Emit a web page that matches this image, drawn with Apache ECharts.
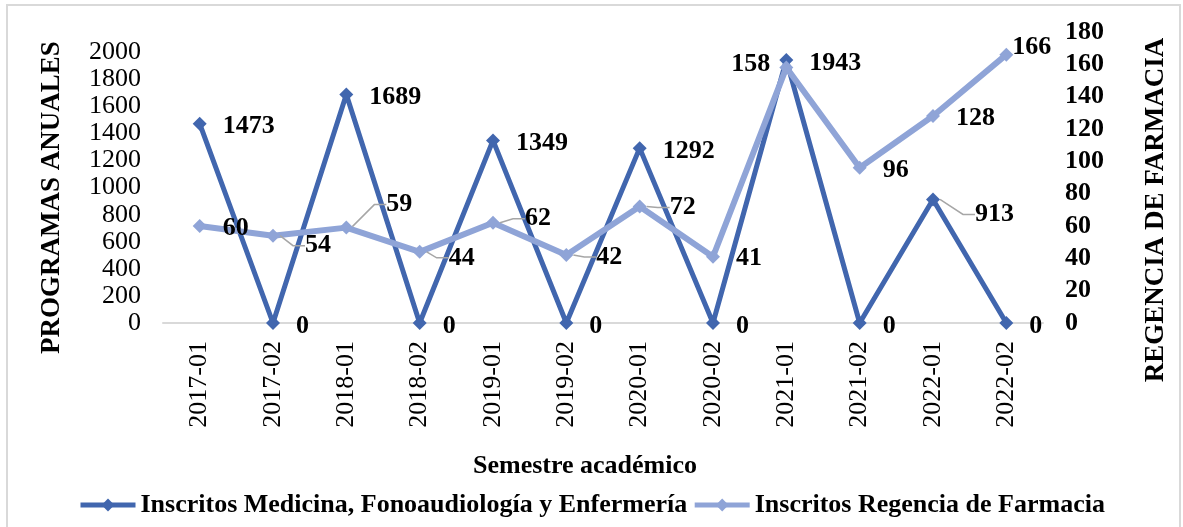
<!DOCTYPE html>
<html>
<head>
<meta charset="utf-8">
<script src="https://cdn.jsdelivr.net/npm/echarts@6/dist/echarts.min.js"></script>
<style>
html,body{margin:0;padding:0;background:#fff;}
#chart{width:1183px;height:527px;}
</style>
</head>
<body>
<div id="chart"></div>
<script>
// ---- data ----
var categories = ['2017-01','2017-02','2018-01','2018-02','2019-01','2019-02','2020-01','2020-02','2021-01','2021-02','2022-01','2022-02'];
var medicinaValues = [1473, 0, 1689, 0, 1349, 0, 1292, 0, 1943, 0, 913, 0];
var farmaciaValues = [60, 54, 59, 44, 62, 42, 72, 41, 158, 96, 128, 166];
var seriesNames = ['Inscritos Medicina, Fonoaudiología y Enfermería', 'Inscritos Regencia de Farmacia'];
var leftAxisName = 'PROGRAMAS ANUALES';
var rightAxisName = 'REGENCIA DE FARMACIA';
var xAxisName = 'Semestre académico';

// ---- label placement (style only) ----
var medLabelShift = {10: [19, 15, true]};
var farmLabelShift = {1: [9, 10, true], 2: [17, -23, true], 3: [6, 6, true], 4: [9, -4, true], 5: [7, 2, true], 6: [7, 1, true], 8: [0, -3, false], 11: [-17, -7, false]};

var FONT = 'Liberation Serif, Times New Roman, serif';
var DARK = '#4166AE';
var LIGHT = '#8FA4D7';

function buildData(values, shifts, leftIdx) {
  return values.map(function (v, i) {
    var item = {value: v};
    var s = shifts[i];
    item.labelLine = {show: !!(s && s[2])};
    if (leftIdx && leftIdx.indexOf(i) >= 0) {
      item.label = {position: 'left', distance: 9};
    }
    return item;
  });
}

var chart = echarts.init(document.getElementById('chart'), null, {renderer: 'canvas'});
var labelStyle = {show: true, position: 'right', distance: 16, fontFamily: FONT, fontSize: 26, fontWeight: 'bold', color: '#000'};
var labelLine = {lineStyle: {color: '#A6A6A6', width: 1.5}, length2: 12};

chart.setOption({
  animation: false,
  textStyle: {fontFamily: FONT},
  graphic: [{
    type: 'rect', shape: {x: 7, y: 5, width: 1173, height: 530},
    style: {fill: 'none', stroke: '#D9D9D9', lineWidth: 2}, silent: true, z: -1
  }],
  grid: {left: 163, right: 140, top: 32, height: 291},
  legend: {
    left: 73, top: 487, itemGap: 5, itemWidth: 55, itemHeight: 16,
    lineStyle: {width: 5},
    textStyle: {fontFamily: FONT, fontSize: 26, fontWeight: 'bold', color: '#000'},
    data: seriesNames
  },
  xAxis: {
    type: 'category', data: categories, boundaryGap: true,
    name: xAxisName, nameLocation: 'middle', nameGap: 130,
    nameTextStyle: {fontFamily: FONT, fontSize: 26, fontWeight: 'bold', color: '#000', padding: [0, 36, 0, 0]},
    axisLine: {lineStyle: {color: '#D9D9D9', width: 2}},
    axisTick: {show: false},
    axisLabel: {rotate: 90, margin: 18, fontFamily: FONT, fontSize: 26, color: '#000', interval: 0}
  },
  yAxis: [{
    type: 'value', min: 0, max: 2150, interval: 200, position: 'left',
    name: leftAxisName, nameLocation: 'middle', nameRotate: 90, nameGap: 97,
    nameTextStyle: {fontFamily: FONT, fontSize: 27, fontWeight: 'bold', color: '#000', padding: [0, 40, 0, 0]},
    axisLine: {show: false}, axisTick: {show: false}, splitLine: {show: false},
    axisLabel: {margin: 22, fontFamily: FONT, fontSize: 26, color: '#000',
      formatter: function (v) { return v % 200 === 0 ? String(v) : ''; }}
  }, {
    type: 'value', min: 0, max: 180, interval: 20, position: 'right',
    name: rightAxisName, nameLocation: 'middle', nameRotate: 90, nameGap: 100,
    nameTextStyle: {fontFamily: FONT, fontSize: 27, fontWeight: 'bold', color: '#000', padding: [0, 65, 0, 0]},
    axisLine: {show: false}, axisTick: {show: false}, splitLine: {show: false},
    axisLabel: {margin: 22, fontFamily: FONT, fontSize: 26, fontWeight: 'bold', color: '#000'}
  }],
  series: [{
    name: seriesNames[0], type: 'line', yAxisIndex: 0,
    data: buildData(medicinaValues, medLabelShift, []),
    symbol: 'diamond', symbolSize: 14,
    lineStyle: {color: DARK, width: 5}, itemStyle: {color: DARK},
    label: labelStyle, labelLine: labelLine,
    labelLayout: function (p) { var s = medLabelShift[p.dataIndex]; return s ? {dx: s[0], dy: s[1]} : {dy: 3}; },
    z: 2
  }, {
    name: seriesNames[1], type: 'line', yAxisIndex: 1,
    data: buildData(farmaciaValues, farmLabelShift, [8]),
    symbol: 'diamond', symbolSize: 14,
    lineStyle: {color: LIGHT, width: 6}, itemStyle: {color: LIGHT},
    label: labelStyle, labelLine: labelLine,
    labelLayout: function (p) { var s = farmLabelShift[p.dataIndex]; return s ? {dx: s[0], dy: s[1]} : {dy: 2}; },
    z: 3
  }]
});
</script>
</body>
</html>
